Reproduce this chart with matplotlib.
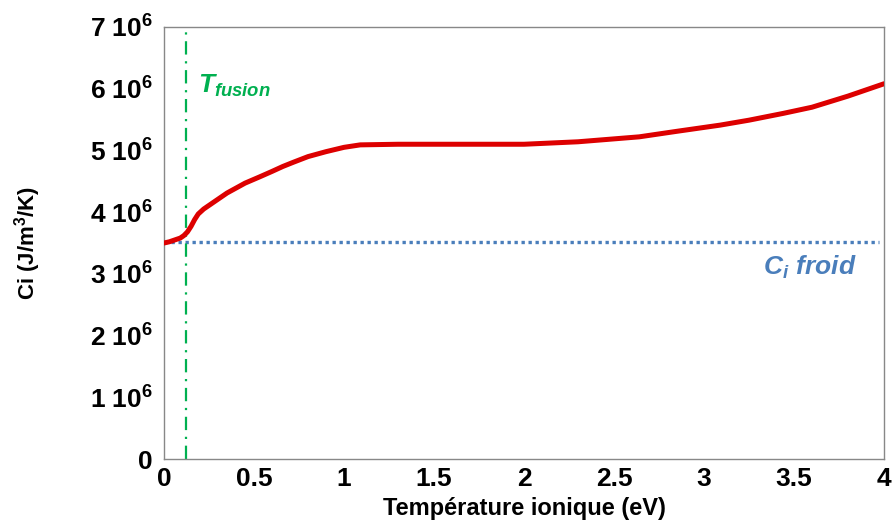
import numpy as np
import matplotlib.pyplot as plt
from matplotlib.ticker import FixedLocator, FuncFormatter

# Data
temperature = [0, 0.03, 0.06, 0.09, 0.11, 0.13, 0.15, 0.17, 0.19, 0.22, 0.26,
               0.3, 0.35, 0.4, 0.45, 0.53, 0.6, 0.66, 0.72, 0.8, 0.9, 1.0,
               1.09, 1.3, 1.6, 2.0, 2.3, 2.64, 2.85, 3.09, 3.25, 3.44, 3.6,
               3.8, 4.0]
ci_values = [3.50, 3.52, 3.55, 3.58, 3.62, 3.68, 3.77, 3.88, 3.97, 4.05, 4.13,
             4.21, 4.31, 4.39, 4.47, 4.57, 4.66, 4.74, 4.81, 4.90, 4.98, 5.05,
             5.09, 5.10, 5.10, 5.10, 5.14, 5.22, 5.31, 5.41, 5.49, 5.60, 5.70,
             5.88, 6.08]
ci_froid = 3.52
t_fusion = 0.12
x_ticks = [0, 0.5, 1, 1.5, 2, 2.5, 3, 3.5, 4]
y_ticks = [0, 1, 2, 3, 4, 5, 6, 7]

plt.rcParams['font.family'] = 'Liberation Sans'
plt.rcParams['font.weight'] = 'bold'
plt.rcParams['mathtext.fontset'] = 'custom'
plt.rcParams['mathtext.rm'] = 'Liberation Sans:bold'
plt.rcParams['mathtext.bf'] = 'Liberation Sans:bold'
plt.rcParams['mathtext.it'] = 'Liberation Sans:bold:italic'
plt.rcParams['mathtext.default'] = 'bf'

fig = plt.figure(figsize=(8.93, 5.27), dpi=100)
ax = fig.add_axes([0.1837, 0.129, 0.8062, 0.8198])

ax.plot(temperature, np.array(ci_values) * 1e6, color='#DD0000', lw=3.6,
        solid_capstyle='round', solid_joinstyle='round', zorder=3)
ax.plot([0, 3.97], [ci_froid * 1e6] * 2, color='#4A7EBB', lw=2.4,
        linestyle=(0, (1, 1.1)), zorder=2)
ax.axvline(t_fusion, color='#00B050', lw=1.6, linestyle=(0, (6, 3, 1, 3)), zorder=2)

ax.text(t_fusion + 0.07, 5.93e6, r'$\mathit{T_{fusion}}$', color='#00B050', fontsize=19)
ax.text(3.33, 2.99e6, r'$\mathit{C_i\ froid}$', color='#4A7EBB', fontsize=19)

ax.set_xlim(0, 4)
ax.set_ylim(0, 7e6)
ax.xaxis.set_major_locator(FixedLocator(x_ticks))
ax.yaxis.set_major_locator(FixedLocator([v * 1e6 for v in y_ticks]))
ax.xaxis.set_major_formatter(FuncFormatter(lambda v, p: f'{v:g}'))
ax.yaxis.set_major_formatter(FuncFormatter(
    lambda v, p: '0' if v == 0 else f'{v / 1e6:g} 10$^{{6}}$'))
ax.tick_params(length=0, labelsize=19, pad=8)
ax.tick_params(axis='x', pad=6)

for s in ax.spines.values():
    s.set_color('#888888')
    s.set_linewidth(1)

ax.set_xlabel('Température ionique (eV)', fontsize=17, fontweight='bold', labelpad=4)
ax.set_ylabel('Ci (J/m$^3$/K)', fontsize=16, fontweight='bold', labelpad=34)

fig.savefig('out.png', dpi=100)
